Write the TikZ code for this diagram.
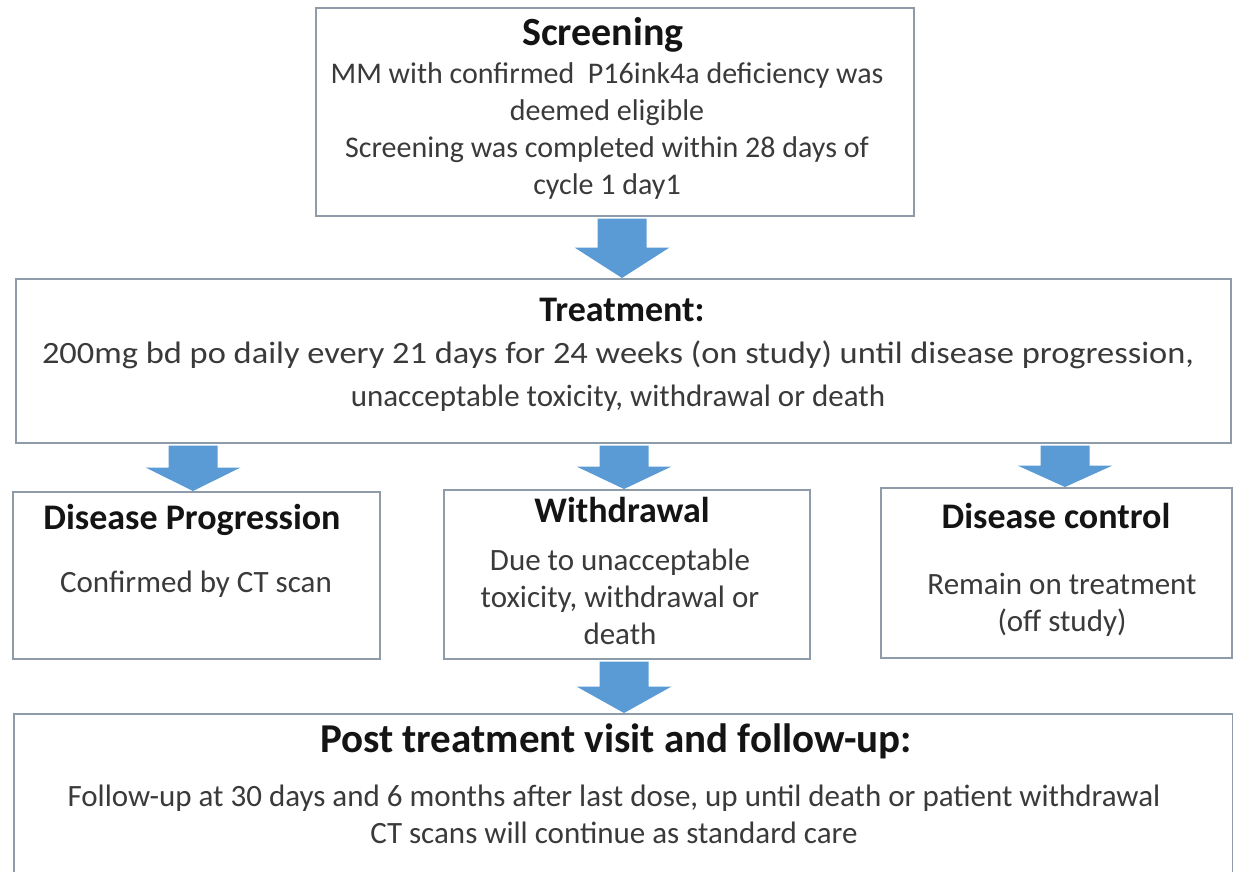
\documentclass[tikz,border=0pt]{standalone}
\usepackage{fontspec}
\setmainfont{Carlito}
\usetikzlibrary{calc}

\definecolor{boxline}{HTML}{8E9BA8}
\definecolor{arrowblue}{HTML}{5B9BD5}
\definecolor{bodytext}{HTML}{3A3A3A}
\definecolor{headtext}{HTML}{141414}

\tikzset{
  flowbox/.style={draw=boxline, line width=2pt, fill=white, inner sep=0pt, anchor=north west},
  headline/.style={font=\fontsize{#1}{#1}\selectfont\bfseries, text=headtext, inner sep=0pt, anchor=center},
  headline/.default=36,
  bodylines/.style={font=\fontsize{#1}{37}\selectfont, text=bodytext, inner sep=0pt, align=center, anchor=center},
  bodylines/.default=30,
}

% block arrow pointing down from the bottom of one box to the top of the next
\newcommand\flowarrow[3]{%
  \path let \p1=(#2.south), \p2=(#3.north), \n1={(\y1-\y2)/2} in
    [fill=arrowblue]
    (#1pt-24.5pt,\y1-1.5pt) -- (#1pt+24.5pt,\y1-1.5pt) -- (#1pt+24.5pt,\y2+\n1)
    -- (#1pt+47.5pt,\y2+\n1) -- (#1pt,\y2) -- (#1pt-47.5pt,\y2+\n1)
    -- (#1pt-24.5pt,\y2+\n1) -- cycle;}

\begin{document}
\begin{tikzpicture}[x=1pt,y=-1pt]
\useasboundingbox (0,0) rectangle (1233,871);

% boxes
\node[flowbox, minimum width=598pt, minimum height=208pt] (scr) at (315,7) {};
\node[flowbox, minimum width=1215pt, minimum height=164pt] (treat) at (15,278) {};
\node[flowbox, minimum width=367pt, minimum height=167pt] (prog) at (12,491) {};
\node[flowbox, minimum width=366pt, minimum height=169pt] (wdr) at (443,489) {};
\node[flowbox, minimum width=351pt, minimum height=170pt] (ctrl) at (880,487) {};
\node[flowbox, minimum width=1219pt, minimum height=200pt] (post) at (13,713) {};

% screening
\node[headline=40] (scrT) at (603,35) {Screening};
\node[bodylines=30] (scrB) at (607,131) {MM with confirmed\ \ P16ink4a deficiency was\\deemed eligible\\Screening was completed within 28 days of\\cycle 1 day1};

% treatment
\node[headline=36] (treatT) at (622,310) {Treatment:};
\node[bodylines=31] (treatB) at (618,376) {\scalebox{1.11}[1]{200mg bd po daily every 21 days for 24 weeks (on study) until disease progression,}\\[6pt]unacceptable toxicity, withdrawal or death};

% outcomes
\node[headline=36] (progT) at (192,520) {Disease Progression};
\node[bodylines=31] (progB) at (196,584) {Confirmed by CT scan};
\node[headline=36] (wdrT) at (622,510) {Withdrawal};
\node[bodylines=31] (wdrB) at (620,597) {Due to unacceptable\\toxicity, withdrawal or\\death};
\node[headline=36] (ctrlT) at (1056,516) {Disease control};
\node[bodylines=31] (ctrlB) at (1062,605) {Remain on treatment\\(off study)};

% follow-up
\node[headline=41] (postT) at (616,741) {Post treatment visit and follow-up:};
\node[bodylines=31] (postB) at (614,814) {Follow-up at 30 days and 6 months after last dose, up until death or patient withdrawal\\CT scans will continue as standard care};

% connectors
\flowarrow{622}{scr}{treat}
\flowarrow{193}{treat}{prog}
\flowarrow{624}{treat}{wdr}
\flowarrow{1065}{treat}{ctrl}
\flowarrow{624}{wdr}{post}
\end{tikzpicture}
\end{document}
